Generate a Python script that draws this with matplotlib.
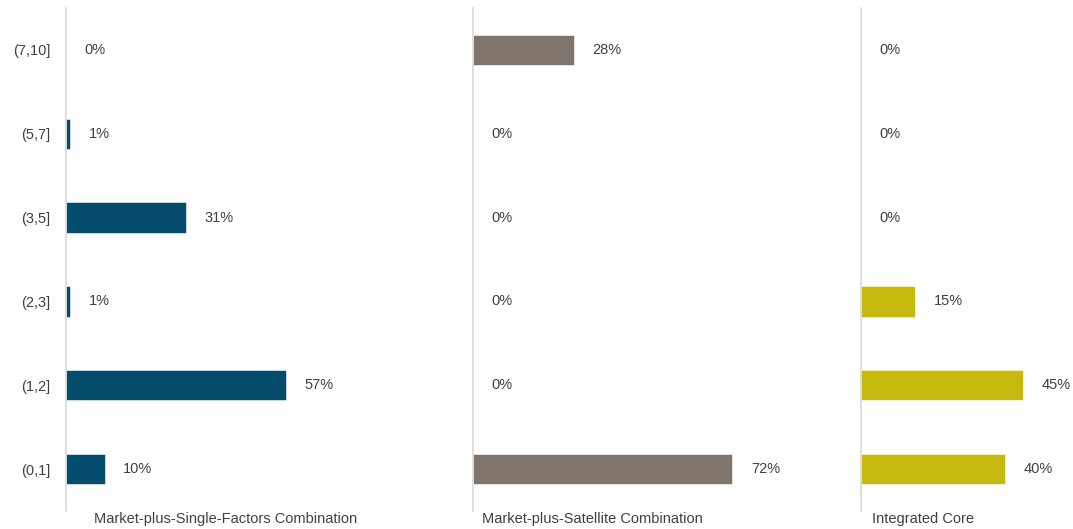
import matplotlib
matplotlib.use("Agg")
import matplotlib.pyplot as plt

categories = ["(0,1]", "(1,2]", "(2,3]", "(3,5]", "(5,7]", "(7,10]"]
panel_titles = ["Market-plus-Single-Factors Combination",
                "Market-plus-Satellite Combination",
                "Integrated Core"]
single_factors = [10, 57, 1, 31, 1, 0]
satellite = [72, 0, 0, 0, 0, 28]
integrated = [40, 45, 15, 0, 0, 0]
series = [single_factors, satellite, integrated]
colors = ["#044C6C", "#7F756D", "#C8B90E"]

plt.rcParams['font.family'] = ['Liberation Sans', 'DejaVu Sans']
TXT = "#404040"

W, H = 1073, 529
fig = plt.figure(figsize=(W / 100, H / 100), dpi=100)

# pixel layout: (left, width, px per percent)
layout = [(66, 400, 3.86), (473, 380, 3.6), (861, 205, 3.6)]
title_x = [94, 482, 872]
top_px, bot_px = 8, 511

for i, (vals, col, (lx, wpx, scale)) in enumerate(zip(series, colors, layout)):
    ax = fig.add_axes([lx / W, (H - bot_px) / H, wpx / W, (bot_px - top_px) / H])
    y = list(range(len(categories)))
    ax.barh(y, vals, height=0.36, color=col, edgecolor="white", linewidth=0.4)
    ax.set_xlim(0, wpx / scale)
    ax.set_ylim(-0.5, len(categories) - 0.5)
    for yy, v in zip(y, vals):
        ax.annotate(f"{v}%", xy=(v, yy), xytext=(13.5, 0), textcoords="offset points",
                    ha="left", va="center", fontsize=10.5, color=TXT)
    for s in ["top", "right", "bottom"]:
        ax.spines[s].set_visible(False)
    ax.spines["left"].set_color("#D9D9D9")
    ax.spines["left"].set_linewidth(1.2)
    ax.set_xticks([])
    if i == 0:
        ax.set_yticks(y)
        ax.set_yticklabels(categories, fontsize=10.5, color=TXT)
        ax.tick_params(axis="y", length=0, pad=11)
    else:
        ax.set_yticks([])
    ax.patch.set_alpha(0)
    fig.text(title_x[i] / W, (H - 523) / H, panel_titles[i], ha="left", va="baseline",
             fontsize=10.5, color=TXT)

fig.savefig("out.png", dpi=100)
